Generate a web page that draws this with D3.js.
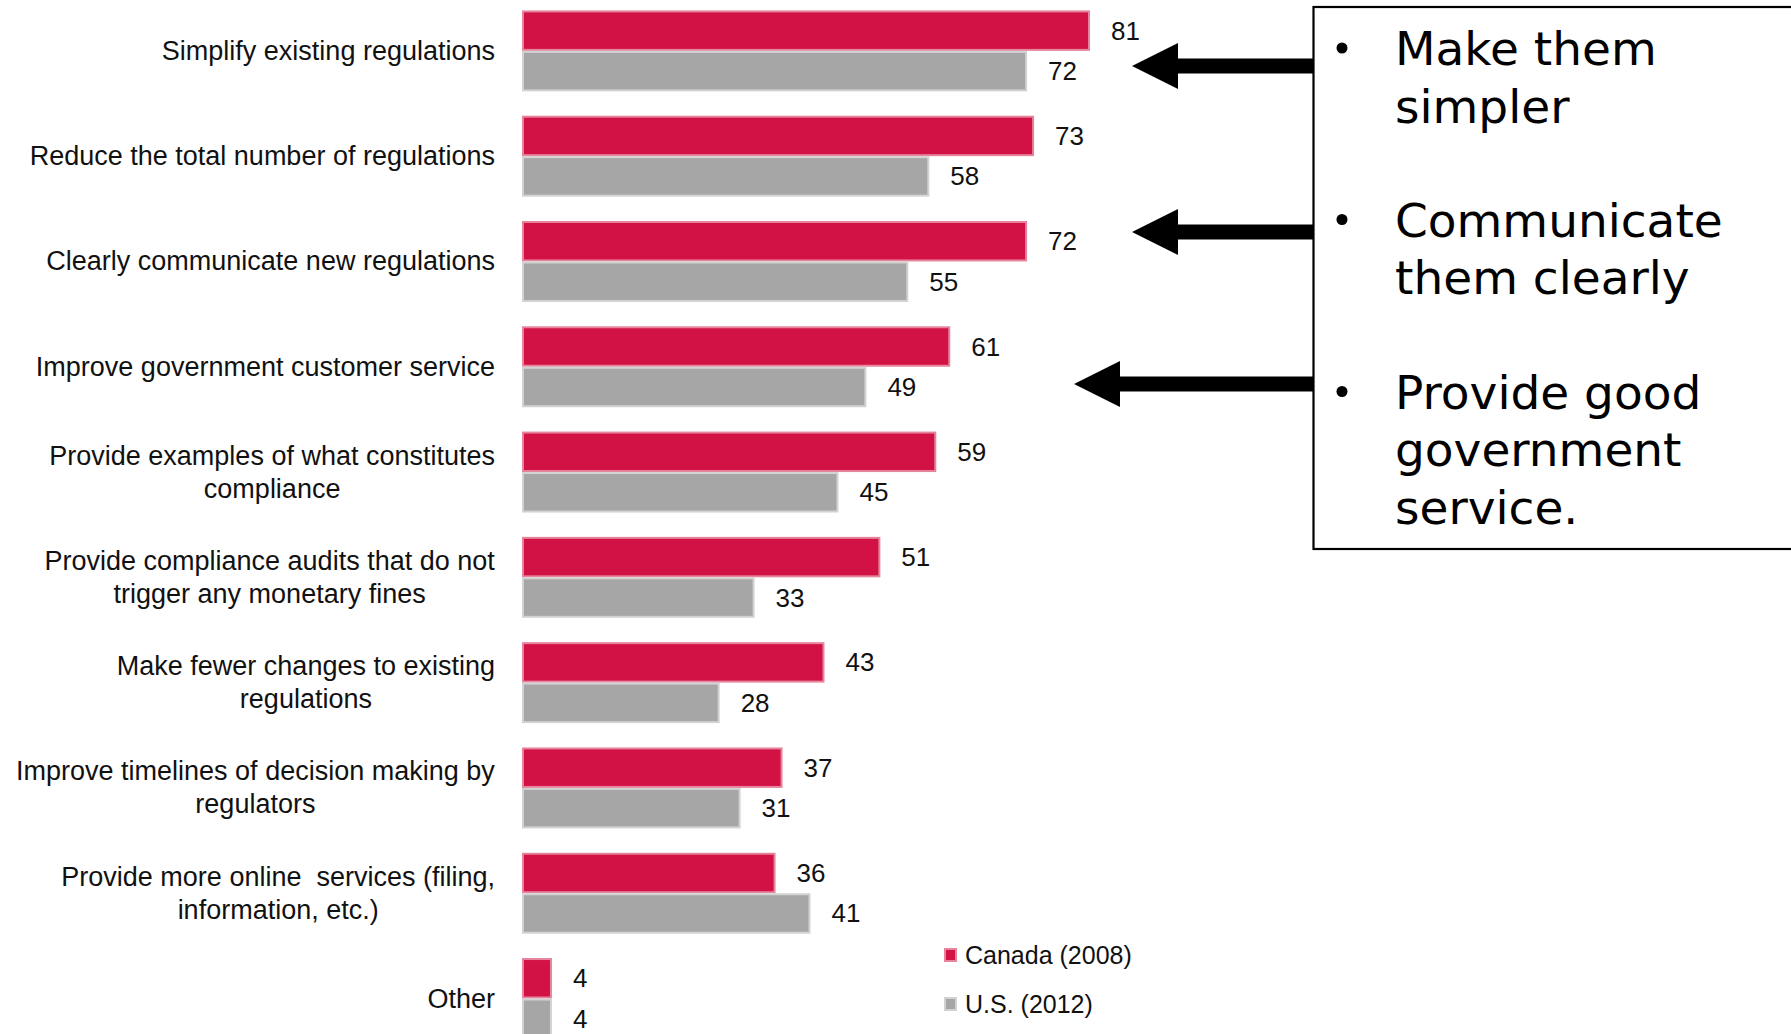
<!DOCTYPE html>
<html>
<head>
<meta charset="utf-8">
<script src="https://cdn.jsdelivr.net/npm/d3@7"></script>
<style>
  body { margin: 0; background: #fff; }
  svg { display: block; }
</style>
</head>
<body>
<div id="chart"></div>
<script>
// categories ("|" splits a label onto two lines)
const categories = [
  "Simplify existing regulations",
  "Reduce the total number of regulations",
  "Clearly communicate new regulations",
  "Improve government customer service",
  "Provide examples of what constitutes|compliance",
  "Provide compliance audits that do not|trigger any monetary fines",
  "Make fewer changes to existing|regulations",
  "Improve timelines of decision making by|regulators",
  "Provide more online  services (filing,|information, etc.)",
  "Other"
]
const canada = [81, 73, 72, 61, 59, 51, 43, 37, 36, 4]
const us = [72, 58, 55, 49, 45, 33, 28, 31, 41, 4]
const seriesNames = ["Canada (2008)", "U.S. (2012)"]

// callout box text
const boxItems = [
  ["Make them", "simpler"],
  ["Communicate", "them clearly"],
  ["Provide good", "government", "service."]
]
const arrowY = [66, 232, 384]
const arrowTip = [1132, 1132, 1074]

const width = 1791
const height = 1034

const fills = ["#d21245", "#a6a6a6"]
const strokes = ["#e5849c", "#d2d2d2"]

const svg = d3.select('#chart')
  .append('svg')
  .attr('width', width)
  .attr('height', height)

const rows = categories.map((c, i) => ({cat: c, vals: [canada[i], us[i]]}))

const x = d3.scaleLinear()
  .domain([0, 81])
  .range([523, 1089])

const y = d3.scaleBand()
  .domain(categories)
  .range([11.4, 1038])
  .paddingInner(0.25)
  .paddingOuter(0)

const ySub = d3.scaleBand()
  .domain([0, 1])
  .range([0, y.bandwidth()])
  .paddingInner(0.05)

const groups = svg.selectAll('g.row')
  .data(rows)
  .join('g')
  .attr('class', 'row')
  .attr('transform', d => `translate(0,${y(d.cat)})`)

groups.selectAll('rect')
  .data(d => d.vals.map((v, k) => ({v, k})))
  .join('rect')
  .attr('x', x(0))
  .attr('y', d => ySub(d.k))
  .attr('width', d => x(d.v) - x(0))
  .attr('height', ySub.bandwidth())
  .attr('fill', d => fills[d.k])
  .attr('stroke', d => strokes[d.k])
  .attr('stroke-width', 2)

groups.selectAll('text.val')
  .data(d => d.vals.map((v, k) => ({v, k})))
  .join('text')
  .attr('class', 'val')
  .attr('x', d => x(d.v) + 22)
  .attr('y', d => ySub(d.k) + ySub.bandwidth() / 2 + 9)
  .text(d => d.v)
  .style('font-family', '"Liberation Sans", Arial, sans-serif')
  .attr('font-size', 26)
  .attr('fill', '#111')

// category labels: lines centred on each other, block right-aligned
const labelRight = 495
const lineGap = 33
groups.each(function(d) {
  const g = d3.select(this)
  const lines = d.cat.split('|')
  const mid = y.bandwidth() / 2
  const t = g.append('text')
    .style('font-family', '"Liberation Sans", Arial, sans-serif')
    .style('white-space', 'pre')
    .attr('font-size', 27)
    .attr('fill', '#111')
    .attr('text-anchor', 'middle')
  lines.forEach((ln, j) => {
    t.append('tspan')
      .attr('x', 0)
      .attr('y', mid + 9 + (j - (lines.length - 1) / 2) * lineGap)
      .text(ln)
  })
  const w = t.node().getBBox().width
  t.attr('transform', `translate(${labelRight - w / 2},0)`)
})

// legend
const legend = svg.append('g')
  .attr('transform', 'translate(945,949)')
seriesNames.forEach((s, k) => {
  const lg = legend.append('g').attr('transform', `translate(0,${k * 49})`)
  lg.append('rect')
    .attr('width', 11)
    .attr('height', 12)
    .attr('fill', fills[k])
    .attr('stroke', strokes[k])
    .attr('stroke-width', 2)
  lg.append('text')
    .attr('x', 20)
    .attr('y', 15)
    .text(s)
    .style('font-family', '"Liberation Sans", Arial, sans-serif')
    .attr('font-size', 25)
    .attr('fill', '#111')
})

// callout box
const boxX = 1313.5
svg.append('rect')
  .attr('x', boxX)
  .attr('y', 7)
  .attr('width', 520)
  .attr('height', 542)
  .attr('fill', 'none')
  .attr('stroke', '#000')
  .attr('stroke-width', 2.2)

const firstBase = [65, 236.5, 408.5]
const boxLine = 57.5
boxItems.forEach((item, i) => {
  svg.append('circle')
    .attr('cx', 1342)
    .attr('cy', firstBase[i] - 17)
    .attr('r', 5.5)
    .attr('fill', '#000')
  const t = svg.append('text')
    .style('font-family', '"DejaVu Sans", Verdana, sans-serif')
    .attr('font-size', 47)
    .attr('fill', '#000')
  item.forEach((ln, j) => {
    t.append('tspan')
      .attr('x', 1395)
      .attr('y', firstBase[i] + j * boxLine)
      .text(ln)
  })
})

// arrows from the box to the chart
arrowY.forEach((cy, i) => {
  const tip = arrowTip[i]
  const back = tip + 46
  const pts = [
    [tip, cy], [back, cy - 23], [back, cy - 7.5], [boxX, cy - 7.5],
    [boxX, cy + 7.5], [back, cy + 7.5], [back, cy + 23]
  ]
  svg.append('path')
    .attr('d', d3.line()(pts) + 'Z')
    .attr('fill', '#000')
})
</script>
</body>
</html>
